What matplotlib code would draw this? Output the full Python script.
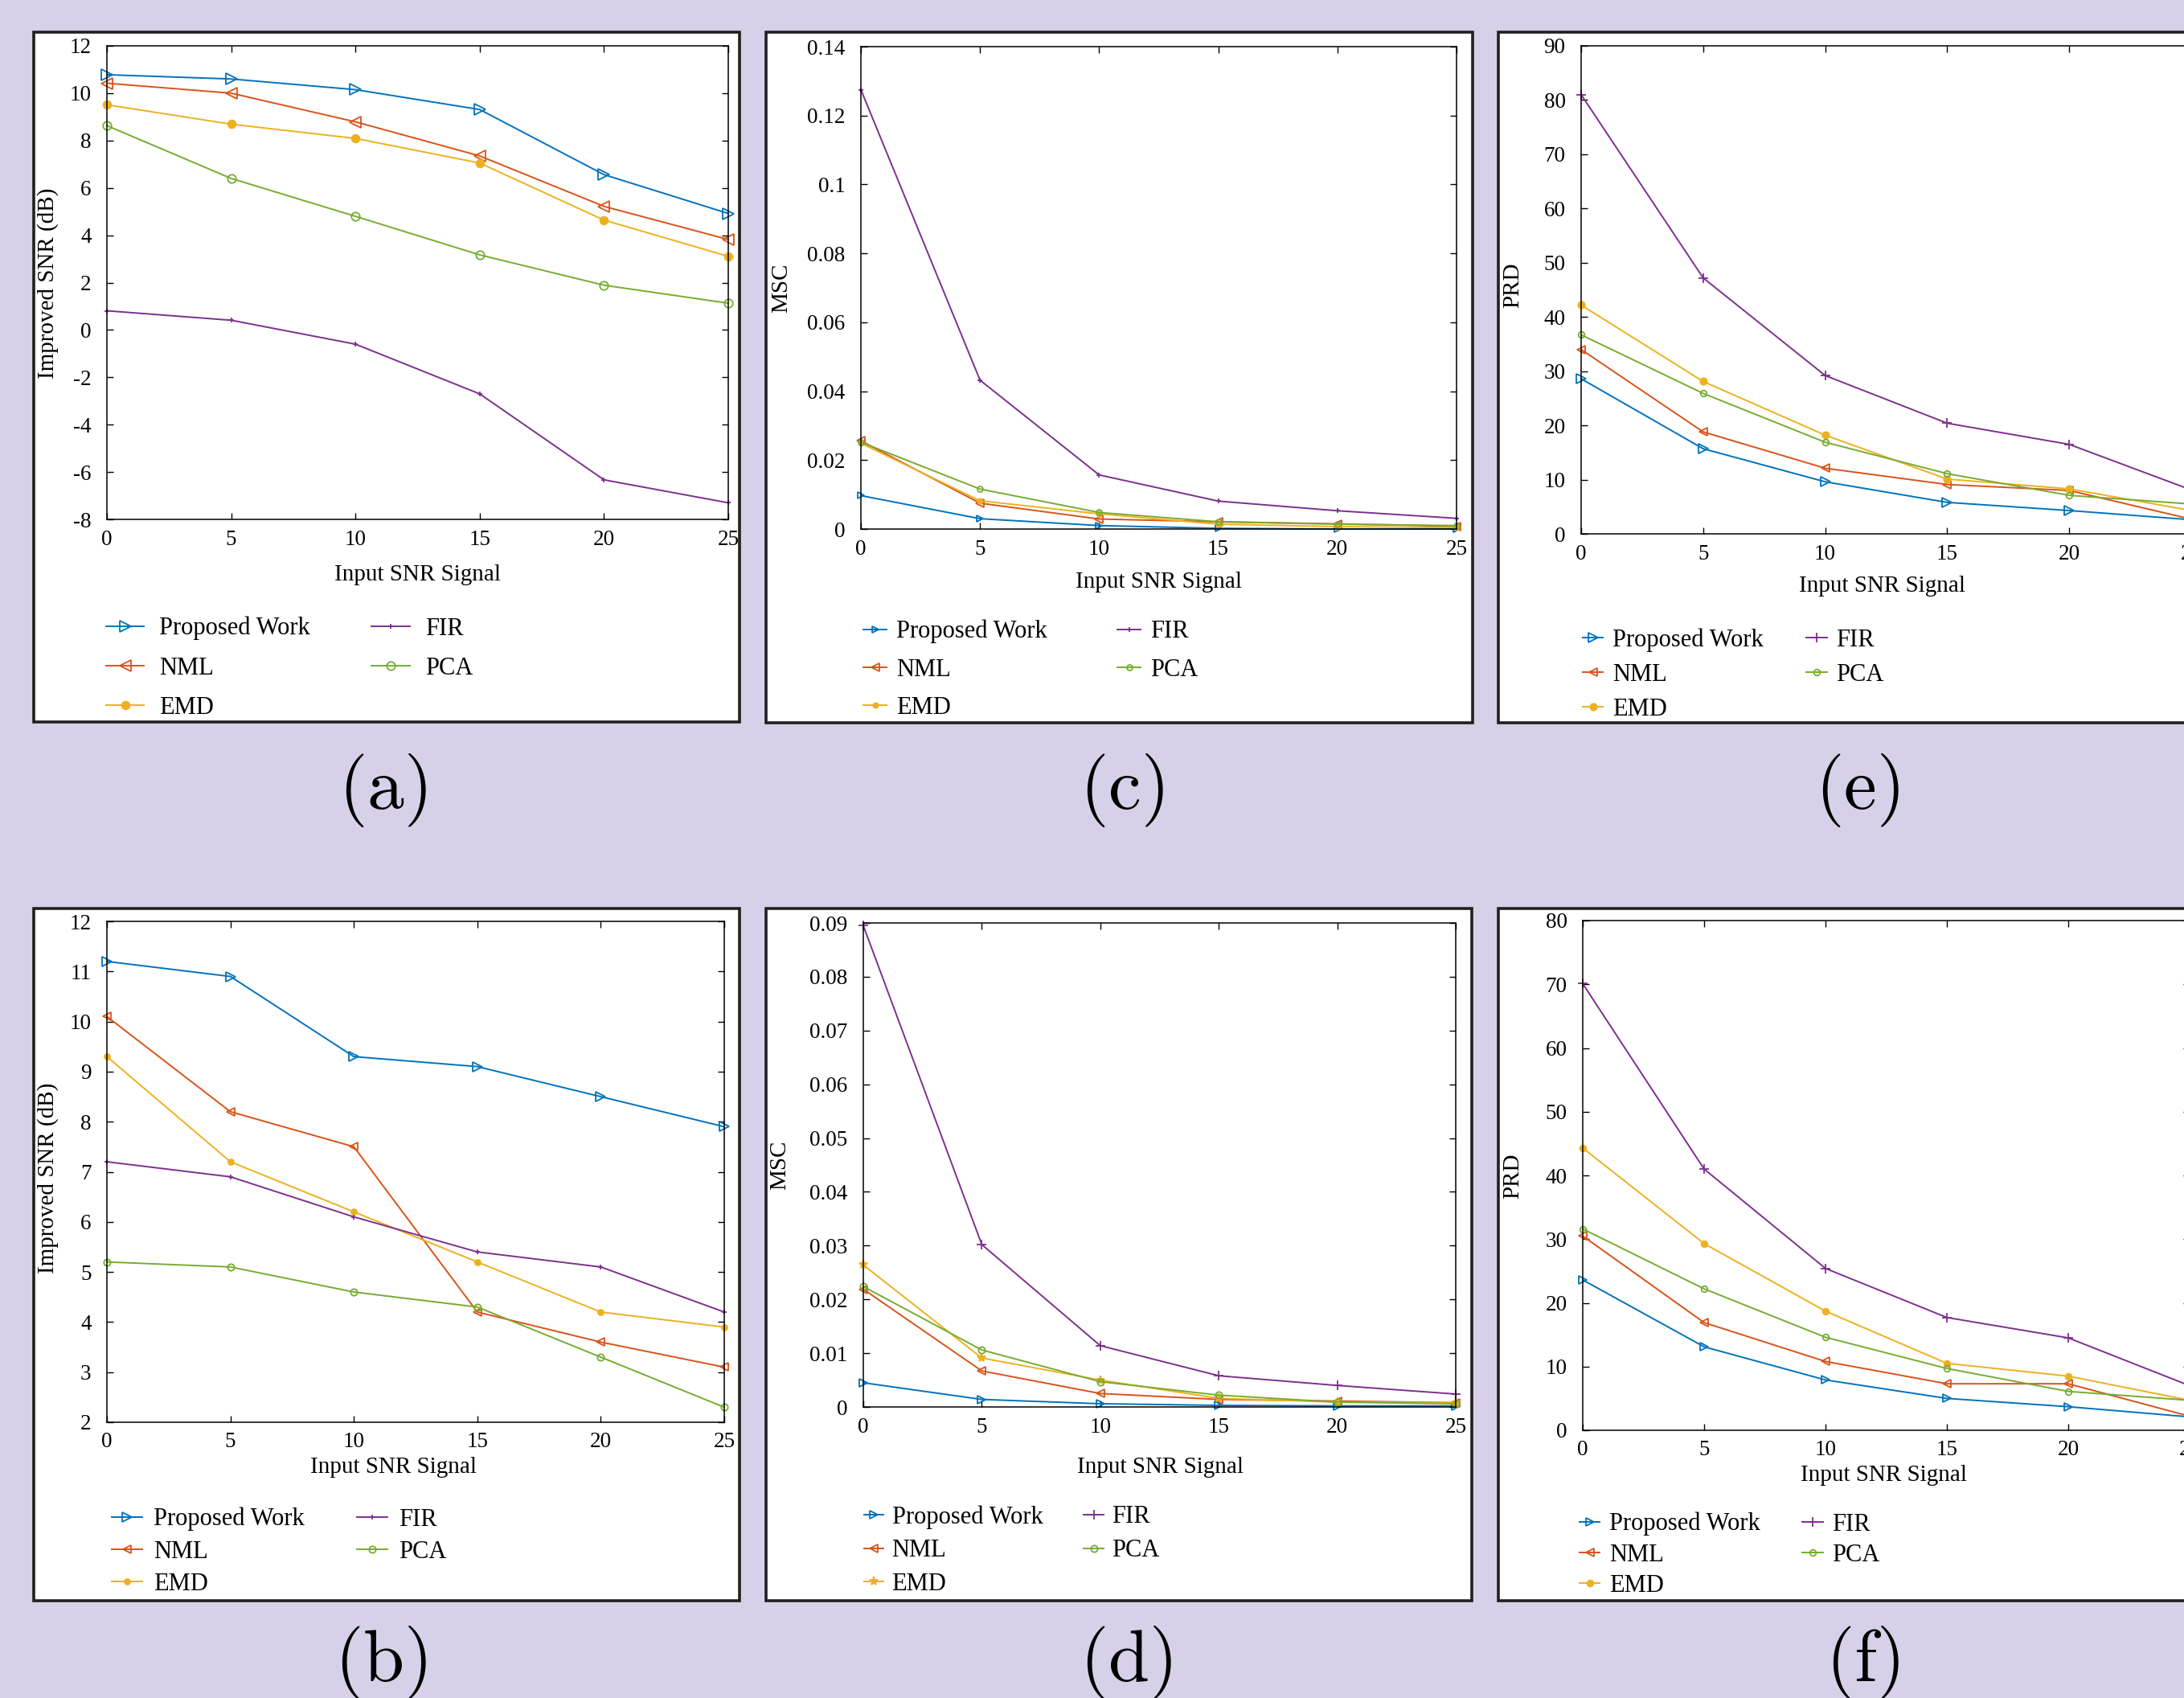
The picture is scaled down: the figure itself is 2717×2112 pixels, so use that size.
import matplotlib.pyplot as plt
from matplotlib.patches import Rectangle
from matplotlib.ticker import FuncFormatter

plt.rcParams['font.family'] = ['Liberation Serif', 'DejaVu Serif']
plt.rcParams['mathtext.fontset'] = 'cm'

W, H = 2717, 2112
BG = '#d6d1e8'

x_snr = [0, 5, 10, 15, 20, 25]
methods = ['Proposed Work', 'NML', 'EMD', 'FIR', 'PCA']

# (a) improved SNR, first signal
snr_a = {
    'Proposed Work': [10.78, 10.6, 10.15, 9.31, 6.56, 4.92],
    'NML': [10.42, 10.0, 8.79, 7.35, 5.22, 3.82],
    'EMD': [9.51, 8.69, 8.09, 7.05, 4.64, 3.11],
    'FIR': [0.81, 0.41, -0.6, -2.7, -6.33, -7.3],
    'PCA': [8.63, 6.4, 4.8, 3.17, 1.89, 1.13],
}
# (b) improved SNR, second signal
snr_b = {
    'Proposed Work': [11.2, 10.9, 9.3, 9.1, 8.5, 7.9],
    'NML': [10.1, 8.2, 7.5, 4.2, 3.6, 3.1],
    'EMD': [9.3, 7.2, 6.2, 5.2, 4.2, 3.9],
    'FIR': [7.2, 6.9, 6.1, 5.4, 5.1, 4.2],
    'PCA': [5.2, 5.1, 4.6, 4.3, 3.3, 2.3],
}
# (c) MSC, first signal
msc_c = {
    'Proposed Work': [0.0097, 0.003, 0.001, 0.0002, 0.0, 0.0],
    'NML': [0.0256, 0.0075, 0.0029, 0.0021, 0.0015, 0.0008],
    'EMD': [0.0249, 0.0082, 0.0044, 0.0014, 0.0007, 0.0004],
    'FIR': [0.1275, 0.0432, 0.0157, 0.0081, 0.0053, 0.0031],
    'PCA': [0.0252, 0.0116, 0.0048, 0.0021, 0.0014, 0.001],
}
# (d) MSC, second signal
msc_d = {
    'Proposed Work': [0.0045, 0.0014, 0.0006, 0.0003, 0.0002, 0.0002],
    'NML': [0.0219, 0.0067, 0.0025, 0.0014, 0.0011, 0.0008],
    'EMD': [0.0264, 0.0091, 0.005, 0.0016, 0.0009, 0.0008],
    'FIR': [0.0895, 0.0302, 0.0114, 0.0058, 0.004, 0.0024],
    'PCA': [0.0224, 0.0106, 0.0047, 0.0022, 0.0009, 0.0006],
}
# (e) PRD, first signal
prd_e = {
    'Proposed Work': [28.6, 15.7, 9.6, 5.8, 4.3, 2.6],
    'NML': [34.0, 18.8, 12.1, 9.1, 8.0, 2.7],
    'EMD': [42.2, 28.1, 18.2, 10.1, 8.3, 4.3],
    'FIR': [81.0, 47.2, 29.2, 20.4, 16.5, 8.1],
    'PCA': [36.7, 25.9, 16.9, 11.1, 7.1, 5.5],
}
# (f) PRD, second signal
prd_f = {
    'Proposed Work': [23.6, 13.1, 7.9, 5.0, 3.7, 2.1],
    'NML': [30.5, 16.9, 10.8, 7.3, 7.3, 2.2],
    'EMD': [44.3, 29.3, 18.7, 10.5, 8.5, 4.7],
    'FIR': [70.1, 41.0, 25.4, 17.7, 14.5, 7.0],
    'PCA': [31.6, 22.2, 14.6, 9.7, 6.1, 4.7],
}

colors = {'Proposed Work': '#0072BD', 'NML': '#D95319', 'EMD': '#EDB120',
          'FIR': '#7E2F8E', 'PCA': '#77AC30'}

fig = plt.figure(figsize=(W / 100, H / 100), dpi=100, facecolor=BG)


def px(l, t, r, b):
    return [l / W, 1 - b / H, (r - l) / W, (b - t) / H]


def panel(data, ylabel, ymin, ymax, ystep, ax_px, box_px, xl_px, yl_px,
          leg_px, leg_opts, ms, tag, tag_px, emd_marker='o'):
    # white framed box behind each sub-figure
    fig.add_artist(Rectangle((box_px[0] / W, 1 - box_px[3] / H),
                             (box_px[2] - box_px[0]) / W, (box_px[3] - box_px[1]) / H,
                             transform=fig.transFigure, facecolor='white',
                             edgecolor='#231f20', linewidth=2.6, zorder=-1))
    ax = fig.add_axes(px(*ax_px))
    l, t, r, b = ax_px
    markers = {'Proposed Work': '>', 'NML': '<', 'EMD': emd_marker, 'FIR': '+', 'PCA': 'o'}
    lines = []
    for m in methods:
        filled = m == 'EMD'
        ln, = ax.plot(x_snr, data[m], color=colors[m], lw=1.4, marker=markers[m],
                      ms=ms[m], mew=1.3,
                      mfc=colors[m] if filled else 'none', clip_on=False)
        lines.append(ln)
    ax.set_xlim(0, 25)
    ax.set_ylim(ymin, ymax)
    n = int(round((ymax - ymin) / ystep))
    ax.set_yticks([ymin + i * ystep for i in range(n + 1)])
    ax.set_xticks(x_snr)
    ax.yaxis.set_major_formatter(FuncFormatter(lambda v, p: '%g' % round(v, 6)))
    ax.xaxis.set_major_formatter(FuncFormatter(lambda v, p: '%g' % v))
    ax.tick_params(direction='in', top=True, right=True, length=6, width=1,
                   labelsize=19.5)
    ax.tick_params(axis='y', pad=14)
    ax.tick_params(axis='x', pad=9)
    for s in ax.spines.values():
        s.set_linewidth(1.1)
    ax.set_xlabel('Input SNR Signal', fontsize=21, va='center')
    ax.xaxis.set_label_coords((xl_px[0] - l) / (r - l), (b - xl_px[1]) / (b - t))
    ax.set_ylabel(ylabel, fontsize=21, va='center')
    ax.yaxis.set_label_coords((yl_px[0] - l) / (r - l), (b - yl_px[1]) / (b - t))
    ax.legend(lines, methods, ncol=2, loc='upper left',
              bbox_to_anchor=(leg_px[0] / W, 1 - (leg_px[1] - 18) / H),
              bbox_transform=fig.transFigure, frameon=False, fontsize=22,
              borderpad=0, borderaxespad=0, numpoints=1, **leg_opts)
    fig.text(tag_px[0] / W, 1 - tag_px[1] / H, r'$(\mathrm{%s})$' % tag,
             fontsize=66, ha='center', va='center')
    return ax


panel(snr_a, 'Improved SNR (dB)', -8, 12, 2,
      (133, 57, 906, 646), (42, 40, 920, 898), (520, 715), (60, 352),
      (132, 785), dict(handlelength=1.55, handletextpad=0.62, columnspacing=2.5, labelspacing=0.66),
      {'Proposed Work': 9.5, 'NML': 9.5, 'EMD': 7, 'FIR': 5, 'PCA': 7.5}, 'a', (476, 983))

panel(msc_c, 'MSC', 0, 0.14, 0.02,
      (1071, 58, 1812, 658), (953, 40, 1832, 899), (1442, 724), (972, 358),
      (1074, 789), dict(handlelength=0.95, handletextpad=0.4, columnspacing=2.85, labelspacing=0.6),
      {'Proposed Work': 6, 'NML': 6.5, 'EMD': 4.5, 'FIR': 5, 'PCA': 5}, 'c', (1395, 983))

panel(prd_e, 'PRD', 0, 90, 10,
      (1967, 57, 2726, 664), (1864, 40, 2742, 899), (2342, 729), (1882, 355),
      (1969, 799), dict(handlelength=0.83, handletextpad=0.37, columnspacing=1.76, labelspacing=0.46),
      {'Proposed Work': 8, 'NML': 7, 'EMD': 6, 'FIR': 8, 'PCA': 5.5}, 'e', (2310, 983))

panel(snr_b, 'Improved SNR (dB)', 2, 12, 1,
      (133, 1146, 901, 1769), (42, 1130, 920, 1991), (489, 1825), (60, 1465),
      (139, 1893), dict(handlelength=1.24, handletextpad=0.46, columnspacing=2.15, labelspacing=0.36),
      {'Proposed Work': 8, 'NML': 7.5, 'EMD': 5, 'FIR': 5, 'PCA': 6}, 'b', (474, 2068))

panel(msc_d, 'MSC', 0, 0.09, 0.01,
      (1074, 1148, 1811, 1750), (953, 1130, 1831, 1991), (1443, 1825), (970, 1449),
      (1075, 1890), dict(handlelength=0.8, handletextpad=0.33, columnspacing=1.67, labelspacing=0.42),
      {'Proposed Work': 6.5, 'NML': 6.5, 'EMD': 8, 'FIR': 8, 'PCA': 6}, 'd', (1401, 2068), emd_marker='*')

panel(prd_f, 'PRD', 0, 80, 10,
      (1969, 1145, 2724, 1779), (1864, 1130, 2742, 1991), (2344, 1835), (1882, 1463),
      (1965, 1899), dict(handlelength=0.83, handletextpad=0.37, columnspacing=1.73, labelspacing=0.3),
      {'Proposed Work': 7, 'NML': 6.5, 'EMD': 5.5, 'FIR': 8, 'PCA': 5.5}, 'f', (2317, 2068))

fig.savefig('out.png', dpi=100, facecolor=BG)
